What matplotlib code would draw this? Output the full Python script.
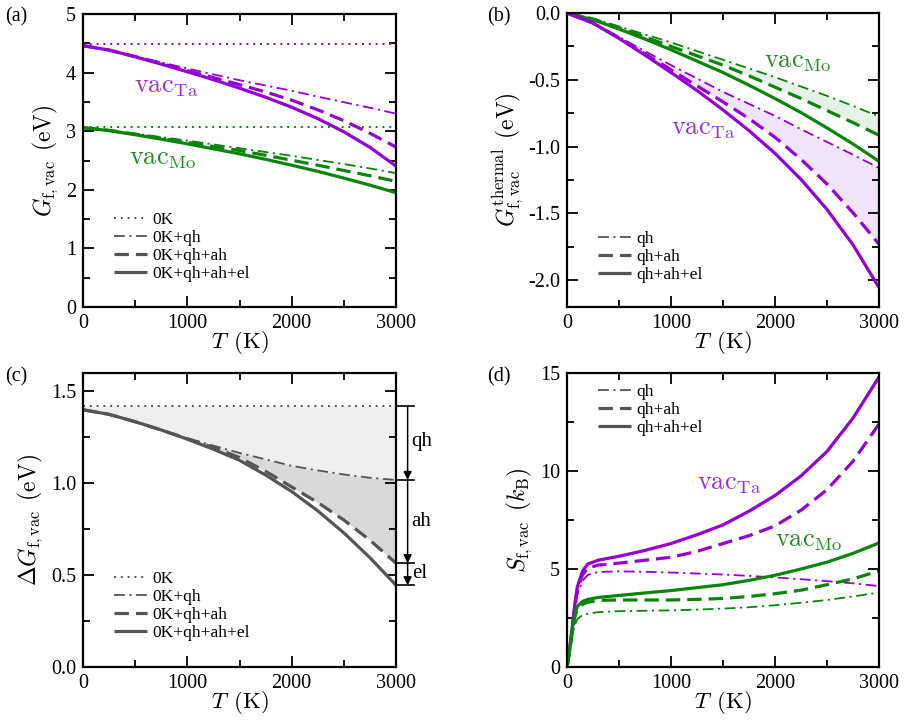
import numpy as np
import matplotlib
matplotlib.use("Agg")
import matplotlib.pyplot as plt
from matplotlib.lines import Line2D
from matplotlib.ticker import MultipleLocator
import matplotlib.transforms as mtransforms

plt.rcParams['font.family'] = 'serif'
plt.rcParams['font.serif'] = ['Liberation Serif', 'DejaVu Serif']
plt.rcParams['mathtext.fontset'] = 'cm'

# temperatures (K)
T = [0, 250, 500, 750, 1000, 1250, 1500, 1750, 2000, 2250, 2500, 2750, 3000]
T_S = [0, 25, 50, 75, 100, 150, 200, 300, 500, 750, 1000, 1250, 1500, 1750,
       2000, 2250, 2500, 2750, 3000]

# (a) G_f,vac (eV)
ta_0k = [4.49, 4.49]
mo_0k = [3.07, 3.07]
ta_qh = [4.46, 4.385, 4.28, 4.175, 4.07, 3.97, 3.87, 3.78, 3.69, 3.59, 3.495, 3.40, 3.30]
ta_qhah = [4.46, 4.385, 4.275, 4.155, 4.035, 3.915, 3.795, 3.67, 3.53, 3.365, 3.18, 2.965, 2.73]
ta_full = [4.46, 4.385, 4.27, 4.145, 4.015, 3.88, 3.735, 3.58, 3.41, 3.215, 2.99, 2.725, 2.405]
mo_qh = [3.06, 3.02, 2.96, 2.90, 2.84, 2.775, 2.71, 2.645, 2.58, 2.51, 2.44, 2.365, 2.285]
mo_qhah = [3.06, 3.015, 2.95, 2.88, 2.81, 2.74, 2.67, 2.59, 2.505, 2.42, 2.33, 2.24, 2.145]
mo_full = [3.06, 3.01, 2.94, 2.865, 2.785, 2.70, 2.615, 2.52, 2.42, 2.315, 2.20, 2.08, 1.95]

# (b) thermal part (eV)
ta_th_qh = [0, -0.075, -0.18, -0.285, -0.39, -0.49, -0.59, -0.68, -0.77, -0.87, -0.965, -1.06, -1.16]
ta_th_qhah = [0, -0.075, -0.185, -0.305, -0.425, -0.545, -0.665, -0.79, -0.93, -1.095, -1.28, -1.495, -1.73]
ta_th_full = [0, -0.075, -0.19, -0.315, -0.445, -0.58, -0.725, -0.88, -1.05, -1.245, -1.47, -1.735, -2.055]
mo_th_qh = [0, -0.04, -0.10, -0.16, -0.22, -0.285, -0.35, -0.415, -0.48, -0.55, -0.62, -0.695, -0.775]
mo_th_qhah = [0, -0.045, -0.11, -0.18, -0.25, -0.32, -0.39, -0.47, -0.555, -0.64, -0.73, -0.82, -0.915]
mo_th_full = [0, -0.05, -0.12, -0.195, -0.275, -0.36, -0.445, -0.54, -0.64, -0.745, -0.86, -0.98, -1.11]

# (c) difference Ta - Mo (eV)
d_0k = [1.42, 1.42]
d_qh = [1.40, 1.375, 1.335, 1.29, 1.245, 1.205, 1.165, 1.13, 1.095, 1.07, 1.048, 1.03, 1.018]
d_qhah = [1.40, 1.375, 1.335, 1.29, 1.243, 1.195, 1.14, 1.065, 0.98, 0.895, 0.80, 0.69, 0.565]
d_full = [1.40, 1.375, 1.335, 1.29, 1.24, 1.185, 1.125, 1.045, 0.955, 0.85, 0.73, 0.595, 0.445]

# (d) S_f,vac (kB)
ta_s_qh = [0, 0.8, 1.8, 2.9, 3.7, 4.4, 4.7, 4.85, 4.88, 4.86, 4.82, 4.77, 4.72, 4.65,
           4.57, 4.48, 4.38, 4.27, 4.13]
ta_s_qhah = [0, 0.85, 1.95, 3.1, 3.95, 4.7, 5.05, 5.2, 5.3, 5.45, 5.6, 5.9, 6.3, 6.7,
             7.2, 8.0, 9.05, 10.5, 12.4]
ta_s_full = [0, 0.9, 2.0, 3.2, 4.1, 4.9, 5.25, 5.45, 5.65, 5.95, 6.3, 6.75, 7.25, 7.95,
             8.75, 9.75, 11.0, 12.7, 14.8]
mo_s_qh = [0, 0.7, 1.55, 2.15, 2.45, 2.65, 2.72, 2.8, 2.85, 2.87, 2.89, 2.93, 2.98, 3.05,
           3.15, 3.28, 3.42, 3.6, 3.8]
mo_s_qhah = [0, 0.75, 1.8, 2.55, 2.95, 3.2, 3.3, 3.4, 3.42, 3.42, 3.42, 3.45, 3.5, 3.6,
             3.74, 3.92, 4.2, 4.5, 4.9]
mo_s_full = [0, 0.8, 1.9, 2.7, 3.1, 3.35, 3.45, 3.55, 3.65, 3.78, 3.9, 4.05, 4.2, 4.42,
             4.68, 5.0, 5.35, 5.8, 6.33]

PURPLE = '#9400d3'
GREEN = '#0a840a'
PURPLE_T = '#9b30d9'
GREEN_T = '#228b22'
GRAY = '#555555'

LW = 2.3
sty_full = dict(lw=LW, ls='-', solid_capstyle='butt')
sty_ah = dict(lw=LW, ls=(0, (4.5, 2.2)))
sty_qh = dict(lw=1.3, ls=(0, (6, 2.5, 1.2, 2.5)))
sty_0k = dict(lw=1.4, ls=(0, (1, 2.5)))

fig = plt.figure(figsize=(9.05, 7.2), dpi=100)
ax_a = fig.add_axes([0.0917, 0.5736, 0.3459, 0.4069])
ax_b = fig.add_axes([0.6265, 0.5736, 0.3448, 0.4083])
ax_c = fig.add_axes([0.0917, 0.0736, 0.3459, 0.4083])
ax_d = fig.add_axes([0.6265, 0.0736, 0.3448, 0.4083])


def style(ax, ymaj, ymin):
    ax.set_xlim(0, 3000)
    ax.xaxis.set_major_locator(MultipleLocator(1000))
    ax.xaxis.set_minor_locator(MultipleLocator(500))
    ax.yaxis.set_major_locator(MultipleLocator(ymaj))
    ax.yaxis.set_minor_locator(MultipleLocator(ymin))
    ax.tick_params(which='both', direction='in', top=True, right=True, width=1.3,
                   labelsize=14.5, pad=5)
    ax.tick_params(which='major', length=8)
    ax.tick_params(which='minor', length=5)
    for sp in ax.spines.values():
        sp.set_linewidth(1.6)
    ax.set_xlabel(r'$T\;\,(\mathrm{K})$', fontsize=16.5, labelpad=-3)


def legend(ax, labels, styles, loc, anchor):
    handles = [Line2D([], [], color=GRAY, **s) for s in styles]
    ax.legend(handles, labels, loc=loc, bbox_to_anchor=anchor, frameon=False,
              fontsize=12.5, handlelength=1.9, handletextpad=0.3, labelspacing=0.1,
              borderpad=0, borderaxespad=0)


# (a)
ax = ax_a
ax.plot([0, 3000], ta_0k, color=PURPLE, **sty_0k)
ax.plot([0, 3000], mo_0k, color=GREEN, **sty_0k)
ax.plot(T, ta_qh, color=PURPLE, **sty_qh)
ax.plot(T, ta_qhah, color=PURPLE, **sty_ah)
ax.plot(T, ta_full, color=PURPLE, **sty_full)
ax.plot(T, mo_qh, color=GREEN, **sty_qh)
ax.plot(T, mo_qhah, color=GREEN, **sty_ah)
ax.plot(T, mo_full, color=GREEN, **sty_full)
style(ax, 1, 0.5)
ax.set_ylim(0, 5)
ax.set_ylabel(r'$G_{\mathrm{f,vac}}\;\,(\mathrm{eV})$', fontsize=17, labelpad=4)
ax.text(796, 3.74, r'$\mathrm{vac}_{\mathrm{Ta}}$', color=PURPLE_T, fontsize=19,
        ha='center', va='center')
ax.text(767, 2.51, r'$\mathrm{vac}_{\mathrm{Mo}}$', color=GREEN_T, fontsize=19,
        ha='center', va='center')
legend(ax, ['0K', '0K+qh', '0K+qh+ah', '0K+qh+ah+el'],
       [sty_0k, sty_qh, sty_ah, sty_full], 'lower left', (0.099, 0.085))

# (b)
ax = ax_b
ax.fill_between(T, mo_th_qh, mo_th_qhah, color='#e6f2e6', lw=0)
ax.fill_between(T, ta_th_qh, ta_th_qhah, color='#f1e4fa', lw=0)
ax.plot(T, mo_th_qh, color=GREEN, **sty_qh)
ax.plot(T, mo_th_qhah, color=GREEN, **sty_ah)
ax.plot(T, mo_th_full, color=GREEN, **sty_full)
ax.plot(T, ta_th_qh, color=PURPLE, **sty_qh)
ax.plot(T, ta_th_qhah, color=PURPLE, **sty_ah)
ax.plot(T, ta_th_full, color=PURPLE, **sty_full)
style(ax, 0.5, 0.25)
ax.set_ylim(-2.2, 0)
ax.yaxis.set_major_formatter(matplotlib.ticker.FormatStrFormatter('%.1f'))
ax.set_ylabel(r'$G^{\mathrm{thermal}}_{\mathrm{f,vac}}\;\,(\mathrm{eV})$', fontsize=17,
              labelpad=2)
ax.text(1308, -0.873, r'$\mathrm{vac}_{\mathrm{Ta}}$', color=PURPLE_T, fontsize=19,
        ha='center', va='center')
ax.text(2221, -0.373, r'$\mathrm{vac}_{\mathrm{Mo}}$', color=GREEN_T, fontsize=19,
        ha='center', va='center')
legend(ax, ['qh', 'qh+ah', 'qh+ah+el'], [sty_qh, sty_ah, sty_full],
       'lower left', (0.099, 0.082))

# (c)
ax = ax_c
ax.fill_between(T, [d_0k[0]] * len(T), d_qh, color='#eeeeee', lw=0)
ax.fill_between(T, d_qh, d_qhah, color='#d9d9d9', lw=0)
ax.plot([0, 3000], d_0k, color=GRAY, **sty_0k)
ax.plot(T, d_qh, color=GRAY, **sty_qh)
ax.plot(T, d_qhah, color=GRAY, **sty_ah)
ax.plot(T, d_full, color=GRAY, **sty_full)
style(ax, 0.5, 0.25)
ax.set_ylim(0, 1.6)
ax.yaxis.set_major_formatter(matplotlib.ticker.FormatStrFormatter('%.1f'))
ax.set_ylabel(r'$\Delta G_{\mathrm{f,vac}}\;\,(\mathrm{eV})$', fontsize=17, labelpad=4)
legend(ax, ['0K', '0K+qh', '0K+qh+ah', '0K+qh+ah+el'],
       [sty_0k, sty_qh, sty_ah, sty_full], 'lower left', (0.099, 0.088))

# contributions at 3000 K, drawn outside the right spine
trans = mtransforms.blended_transform_factory(ax.transAxes, ax.transData)
levels = [d_0k[-1], d_qh[-1], d_qhah[-1], d_full[-1]]
names = ['qh', 'ah', 'el']
for y in levels:
    ax.plot([1.0, 1.058], [y, y], color='black', lw=1.2, transform=trans,
            clip_on=False)
for y0, y1, nm in zip(levels[:-1], levels[1:], names):
    ax.annotate('', xy=(1.037, y1), xytext=(1.037, y0), xycoords=trans,
                textcoords=trans,
                arrowprops=dict(arrowstyle='-|>', color='black', lw=1.1,
                                mutation_scale=12, shrinkA=0, shrinkB=0))
ax.text(1.05, 1.23, 'qh', transform=trans, fontsize=15, va='center', ha='left')
ax.text(1.05, 0.79, 'ah', transform=trans, fontsize=15, va='center', ha='left')
ax.text(1.053, 0.51, 'el', transform=trans, fontsize=15, va='center', ha='left')

# (d)
ax = ax_d
ax.plot(T_S, ta_s_qh, color=PURPLE, **sty_qh)
ax.plot(T_S, ta_s_qhah, color=PURPLE, **sty_ah)
ax.plot(T_S, ta_s_full, color=PURPLE, **sty_full)
ax.plot(T_S, mo_s_qh, color=GREEN, **sty_qh)
ax.plot(T_S, mo_s_qhah, color=GREEN, **sty_ah)
ax.plot(T_S, mo_s_full, color=GREEN, **sty_full)
style(ax, 5, 2.5)
ax.set_ylim(0, 15)
ax.set_ylabel(r'$S_{\mathrm{f,vac}}\;\,(k_{\mathrm{B}})$', fontsize=17, labelpad=4)
ax.text(1558, 9.29, r'$\mathrm{vac}_{\mathrm{Ta}}$', color=PURPLE_T, fontsize=19,
        ha='center', va='center')
ax.text(2327, 6.38, r'$\mathrm{vac}_{\mathrm{Mo}}$', color=GREEN_T, fontsize=19,
        ha='center', va='center')
legend(ax, ['qh', 'qh+ah', 'qh+ah+el'], [sty_qh, sty_ah, sty_full],
       'upper left', (0.099, 0.963))

# panel letters
for x, y, s in [(0.006, 0.99, '(a)'), (0.538, 0.99, '(b)'),
                (0.006, 0.49, '(c)'), (0.538, 0.49, '(d)')]:
    fig.text(x, y, s, fontsize=14.5, va='top', ha='left')

fig.savefig('out.png', dpi=100)
